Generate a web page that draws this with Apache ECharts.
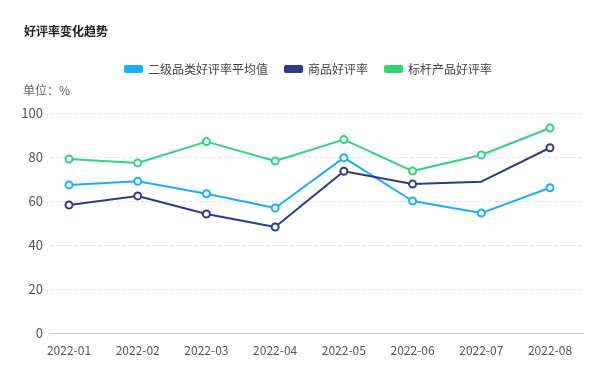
<!DOCTYPE html>
<html><head><meta charset="utf-8">
<script src="https://cdn.jsdelivr.net/npm/echarts@6/dist/echarts.min.js"></script>
<style>html,body{margin:0;padding:0;background:#fff}#c{width:616px;height:368px}</style>
</head><body><div id="c"></div>
<script>
const categories = ['2022-01','2022-02','2022-03','2022-04','2022-05','2022-06','2022-07','2022-08'];
const seriesNames = ['二级品类好评率平均值','商品好评率','标杆产品好评率'];
const avgValues = [67.3, 69.0, 63.3, 56.8, 79.7, 60.0, 54.5, 66.0];
const itemValues = [58.2, 62.3, 54.1, 48.2, 73.5, 67.7, 68.8, 84.2];
const benchValues = [79.1, 77.3, 87.0, 78.2, 87.9, 73.6, 80.9, 93.2];
const colors = ['#1aaeff','#2e3a8a','#2fd47c'];
const font = '"Noto Sans CJK SC", "Noto Sans", sans-serif';
const chart = echarts.init(document.getElementById('c'));
const mk = (name, values, color, hideIdx) => ({
  name, type: 'line', xAxisIndex: 1, yAxisIndex: 1,
  data: values.map((v, i) => i === hideIdx ? {value: v, symbol: 'none'} : v),
  symbol: 'emptyCircle', symbolSize: 7, showSymbol: true,
  lineStyle: {width: 2, color}, itemStyle: {color, borderWidth: 2}
});
chart.setOption({
  animation: false,
  color: colors,
  title: [
    {text: '好评率变化趋势', left: 19, top: 20, textStyle: {fontSize: 12, fontWeight: 'bold', color: '#222', fontFamily: font}},
    {text: '单位：%', left: 18, top: 79, textStyle: {fontSize: 12, fontWeight: 'normal', color: '#666', fontFamily: font}}
  ],
  legend: {
    left: 'center', top: 58, itemWidth: 19, itemHeight: 8, itemGap: 16,
    icon: 'roundRect',
    textStyle: {fontSize: 12, color: '#444', fontFamily: font},
    data: seriesNames
  },
  grid: [
    {left: 50, right: 32, top: 113, bottom: 35},
    {left: 69, right: 66, top: 113, bottom: 35}
  ],
  xAxis: [
    {type: 'category', gridIndex: 0, data: [], axisLine: {show: true, lineStyle: {color: '#ccc'}}, axisTick: {show: false}, axisLabel: {show: false}},
    {type: 'category', gridIndex: 1, data: categories, boundaryGap: false,
     axisLine: {show: false}, axisTick: {show: false},
     axisLabel: {color: '#555', fontSize: 12, margin: 11, fontFamily: font}}
  ],
  yAxis: [
    {type: 'value', gridIndex: 0, min: 0, max: 100, interval: 20,
     axisLine: {show: false}, axisTick: {show: false},
     axisLabel: {color: '#555', fontSize: 13, margin: 7, fontFamily: font},
     splitLine: {lineStyle: {type: 'dashed', color: '#e8e8e8'}}},
    {type: 'value', gridIndex: 1, min: 0, max: 100, interval: 20, show: false, splitLine: {show: false}}
  ],
  series: [
    mk(seriesNames[0], avgValues, colors[0], -1),
    mk(seriesNames[1], itemValues, colors[1], 6),
    mk(seriesNames[2], benchValues, colors[2], -1)
  ]
});
</script></body></html>
